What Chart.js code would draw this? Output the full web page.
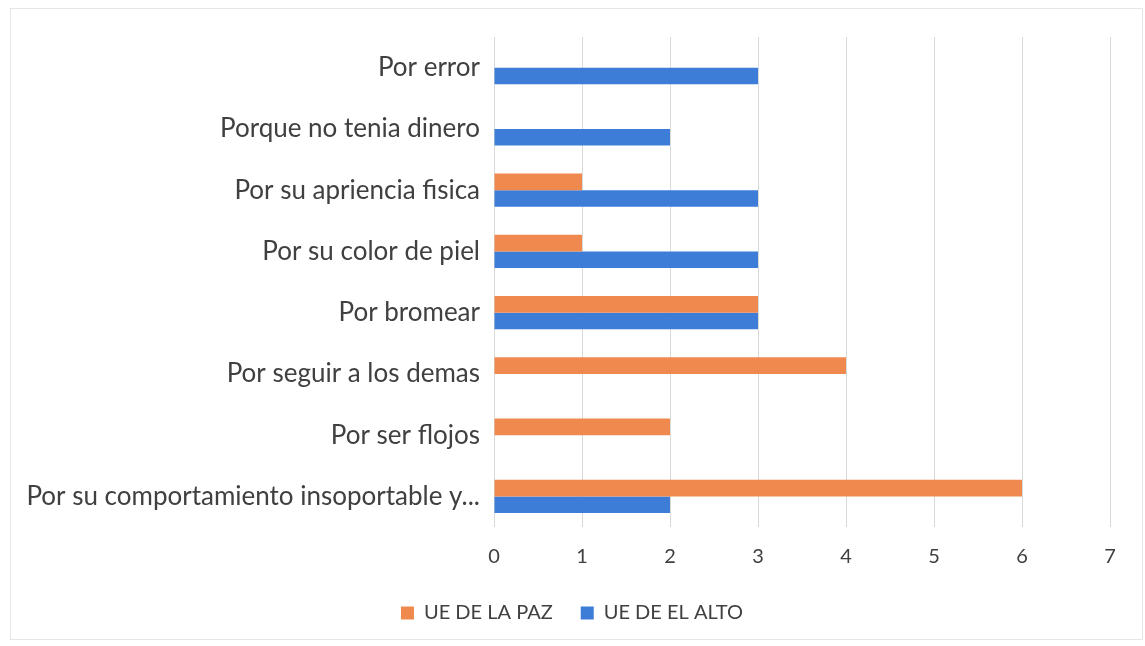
<!DOCTYPE html>
<html>
<head>
<meta charset="utf-8">
<script src="https://cdn.jsdelivr.net/npm/chart.js@4"></script>
<style>
  html, body { margin: 0; padding: 0; background: #fff; }
  #wrap { position: relative; width: 1145px; height: 646px; }
  #frame { position: absolute; left: 10px; top: 8px; width: 1131px; height: 630px; border: 1px solid #e6e6e6; pointer-events: none; }
</style>
</head>
<body>
<div id="wrap">
  <canvas id="chart" width="1145" height="646"></canvas>
  <div id="frame"></div>
</div>
<script>
const categories = [
  'Por error',
  'Porque no tenia dinero',
  'Por su apriencia fisica',
  'Por su color de piel',
  'Por bromear',
  'Por seguir a los demas',
  'Por ser flojos',
  'Por su comportamiento insoportable y...'
];
const laPaz = [0, 0, 1, 1, 3, 4, 2, 6];
const elAlto = [3, 2, 3, 3, 3, 0, 0, 2];
const xTicks = [0, 1, 2, 3, 4, 5, 6, 7];

const textColor = '#404040';
const fontFamily = 'Lato, "Open Sans", sans-serif';

// legend is centred on the whole picture, not on the padded box
const legendShift = {
  id: 'legendShift',
  afterLayout(chart) {
    const lg = chart.legend;
    if (lg) {
      lg.left += 17;
      lg.right += 17;
    }
  }
};

new Chart(document.getElementById('chart'), {
  type: 'bar',
  data: {
    labels: categories,
    datasets: [{
      label: 'UE DE LA PAZ',
      data: laPaz,
      backgroundColor: '#F0894E'
    }, {
      label: 'UE DE EL ALTO',
      data: elAlto,
      backgroundColor: '#3D7DD8'
    }]
  },
  options: {
    indexAxis: 'y',
    responsive: false,
    animation: false,
    layout: { padding: { top: 37, left: 0, right: 35, bottom: 13 } },
    datasets: {
      bar: { barPercentage: 1, categoryPercentage: 0.54 }
    },
    scales: {
      x: {
        min: 0,
        max: 7,
        afterBuildTicks(scale) {
          scale.ticks = xTicks.map(v => ({ value: v }));
        },
        afterFit(scale) { scale.height = 48; },
        grid: { color: '#d9d9d9', drawTicks: false },
        border: { display: false },
        ticks: { padding: 18, color: textColor, font: { family: fontFamily, size: 20 } }
      },
      y: {
        afterFit(scale) { scale.width = 494; },
        grid: { display: false },
        border: { display: false },
        ticks: { padding: 6, color: textColor, font: { family: fontFamily, size: 26 } }
      }
    },
    plugins: {
      tooltip: { enabled: false },
      legend: {
        position: 'bottom',
        labels: {
          boxWidth: 13,
          boxHeight: 13,
          padding: 28,
          color: textColor,
          font: { family: fontFamily, size: 20 }
        }
      }
    }
  },
  plugins: [legendShift]
});
</script>
</body>
</html>
